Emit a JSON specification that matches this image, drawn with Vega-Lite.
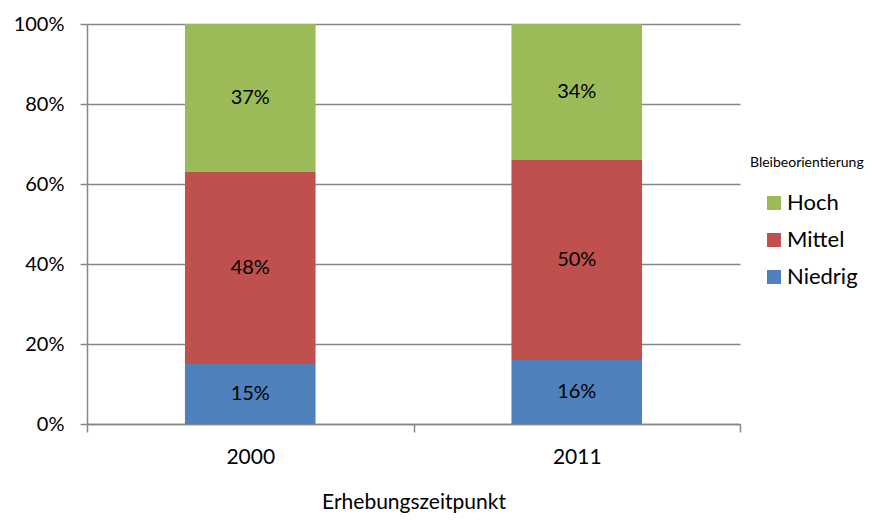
{
  "$schema": "https://vega.github.io/schema/vega-lite/v6.json",
  "width": 653,
  "height": 400,
  "autosize": {"type": "none"},
  "padding": {"left": 87, "top": 24, "right": 135, "bottom": 96},
  "background": "white",
  "config": {
    "font": "Lato",
    "view": {"stroke": null}
  },
  "data": {
    "values": [
      {"jahr": "2000", "kategorie": "Niedrig", "anteil": 0.15},
      {"jahr": "2000", "kategorie": "Mittel", "anteil": 0.48},
      {"jahr": "2000", "kategorie": "Hoch", "anteil": 0.37},
      {"jahr": "2011", "kategorie": "Niedrig", "anteil": 0.16},
      {"jahr": "2011", "kategorie": "Mittel", "anteil": 0.50},
      {"jahr": "2011", "kategorie": "Hoch", "anteil": 0.34}
    ]
  },
  "encoding": {
    "x": {
      "field": "jahr",
      "type": "nominal",
      "scale": {"paddingInner": 0, "paddingOuter": 0},
      "axis": {
        "title": "Erhebungszeitpunkt",
        "labelAngle": 0,
        "labelFontSize": 21,
        "labelColor": "#000000",
        "labelPadding": 14,
        "tickBand": "extent",
        "tickSize": 8,
        "tickColor": "#868686",
        "tickWidth": 1.5,
        "domainColor": "#868686",
        "domainWidth": 1.5,
        "titleFontSize": 21,
        "titleFontWeight": "normal",
        "titleColor": "#000000",
        "titlePadding": 24
      }
    }
  },
  "layer": [
    {
      "mark": {"type": "bar", "width": {"band": 0.4}},
      "encoding": {
        "y": {
          "field": "anteil",
          "type": "quantitative",
          "stack": "zero",
          "scale": {"domain": [0, 1]},
          "axis": {
            "title": null,
            "format": ".0%",
            "values": [0, 0.2, 0.4, 0.6, 0.8, 1],
            "labelFontSize": 20,
            "labelColor": "#000000",
            "labelPadding": 16,
            "tickSize": 7,
            "tickColor": "#868686",
            "tickWidth": 1.5,
            "domainColor": "#868686",
            "domainWidth": 1.5,
            "grid": true,
            "gridColor": "#868686",
            "gridWidth": 1.5
          }
        },
        "color": {
          "field": "kategorie",
          "type": "nominal",
          "scale": {
            "domain": ["Hoch", "Mittel", "Niedrig"],
            "range": ["#9BBB59", "#C0504D", "#4F81BD"]
          },
          "legend": {
            "title": "Bleibeorientierung",
            "orient": "none",
            "legendX": 663,
            "legendY": 132,
            "titleFontSize": 14,
            "titleFontWeight": "normal",
            "titleColor": "#000000",
            "titlePadding": 22,
            "labelFontSize": 22,
            "labelColor": "#000000",
            "labelOffset": 2,
            "symbolType": "square",
            "symbolSize": 196,
            "symbolStrokeWidth": 0,
            "symbolOffset": 13,
            "rowPadding": 15
          }
        },
        "order": {"field": "kategorie", "sort": "descending"}
      }
    },
    {
      "mark": {"type": "text", "fontSize": 20, "color": "#000000", "baseline": "middle"},
      "encoding": {
        "y": {
          "field": "anteil",
          "type": "quantitative",
          "stack": "zero",
          "bandPosition": 0.5
        },
        "detail": {"field": "kategorie"},
        "order": {"field": "kategorie", "sort": "descending"},
        "text": {"field": "anteil", "type": "quantitative", "format": ".0%"}
      }
    }
  ]
}
